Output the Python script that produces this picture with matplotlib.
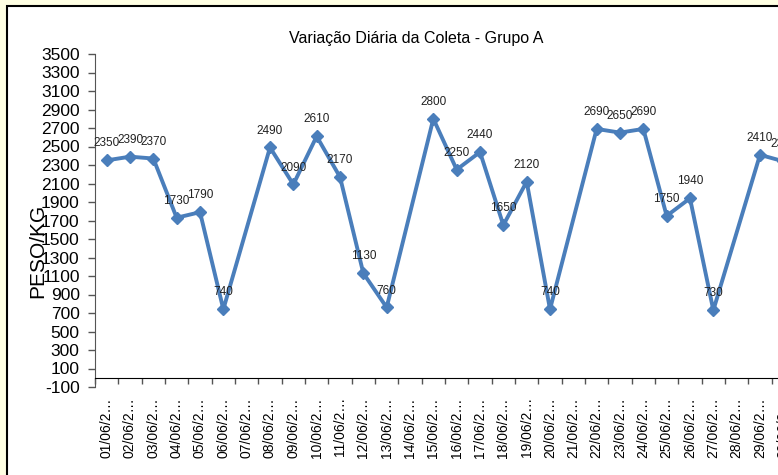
import numpy as np
import matplotlib.pyplot as plt
from matplotlib.patches import Rectangle

plt.rcParams['font.family'] = ['Liberation Sans', 'DejaVu Sans']
plt.rcParams['axes.unicode_minus'] = False

# daily collection, group A (June) - Sundays have no value
days = ['%02d/06/2…' % d for d in range(1, 31)]
peso = [2350, 2390, 2370, 1730, 1790, 740, None,
        2490, 2090, 2610, 2170, 1130, 760, None,
        2800, 2250, 2440, 1650, 2120, 740, None,
        2690, 2650, 2690, 1750, 1940, 730, None,
        2410, 2340]
yticks = list(range(-100, 3501, 200))

blue = '#4A7EBB'

fig = plt.figure(figsize=(7.78, 4.75), dpi=100)
fig.patch.set_facecolor('#FFFFE3')
# white chart area with black border
fig.patches.append(Rectangle((7 / 778, -0.1), 1.2, 1 - 6 / 475 + 0.1,
                             transform=fig.transFigure, facecolor='white',
                             edgecolor='black', linewidth=1.5, zorder=-5))

ax = fig.add_axes([95 / 778, 1 - 387 / 475, 700 / 778, 333 / 475])
ax.set_facecolor('none')

x = np.arange(len(days))
pts = [(i, v) for i, v in zip(x, peso) if v is not None]
px = [p[0] for p in pts]
py = [p[1] for p in pts]
ax.plot(px, py, color=blue, lw=2.8, marker='D', ms=6.5, clip_on=False, zorder=3)
for i, v in pts:
    ax.annotate(str(v), (i, v), xytext=(0, 10), textcoords='offset points',
                ha='center', va='baseline', fontsize=8.5, color='#222222',
                annotation_clip=False)

ax.set_xlim(-0.5, len(days) - 0.5)
ax.set_ylim(-100, 3500)
ax.set_yticks(yticks)
ax.set_yticklabels([str(t) for t in yticks], fontsize=12.5)
ax.tick_params(axis='y', direction='out', length=5, width=1, color='#555555', pad=6)

ax.set_xticks(x)
ax.set_xticklabels(days, fontsize=8.2, color='#333333')
ax.set_xticks(np.arange(len(days) + 1) - 0.5, minor=True)
ax.tick_params(axis='x', which='major', length=0, pad=14, labelrotation=90)
ax.tick_params(axis='x', which='minor', direction='out', length=4, width=1, color='#555555')

ax.spines['bottom'].set_position(('data', 0))
ax.spines['bottom'].set_color('black')
ax.spines['left'].set_color('#555555')
ax.spines['top'].set_visible(False)
ax.spines['right'].set_visible(False)

ax.set_ylabel('PESO/KG', fontsize=15)
ax.yaxis.set_label_coords(-0.068, 0.41)

fig.text(416 / 778, 1 - 38 / 475, 'Variação Diária da Coleta - Grupo A',
         ha='center', va='center', fontsize=11.5)

fig.savefig('out.png', dpi=100, facecolor=fig.get_facecolor())
